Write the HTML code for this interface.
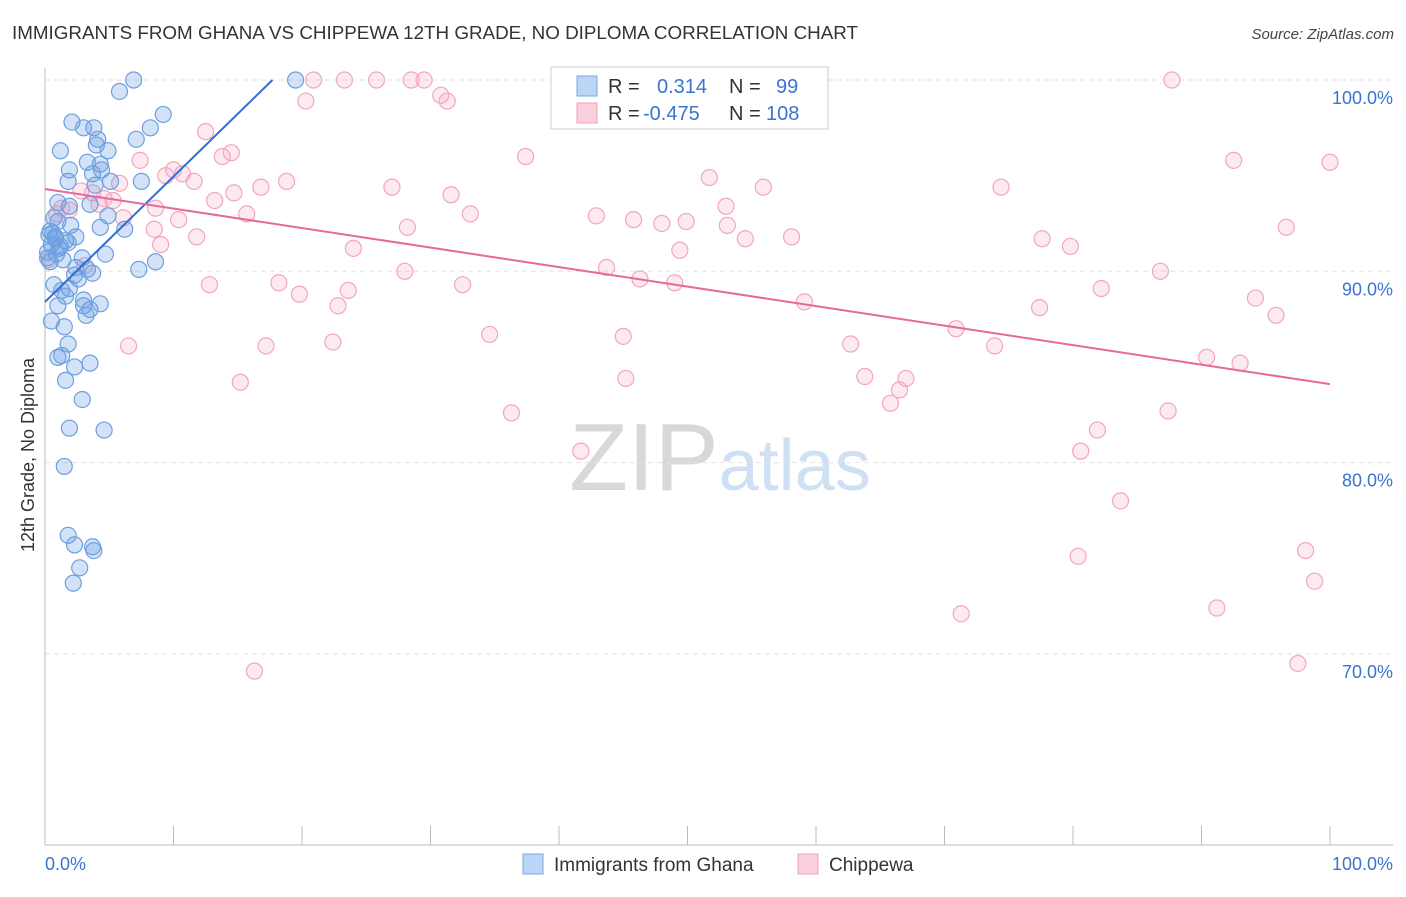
<!DOCTYPE html>
<html><head><meta charset="utf-8"><style>
body{margin:0;background:#fff;font-family:"Liberation Sans",sans-serif;}
svg text{font-family:"Liberation Sans",sans-serif;}
</style></head><body>
<svg id="chart" width="1406" height="892" xmlns="http://www.w3.org/2000/svg">
<text x="12" y="39" font-size="18" fill="#333" textLength="846" lengthAdjust="spacingAndGlyphs">IMMIGRANTS FROM GHANA VS CHIPPEWA 12TH GRADE, NO DIPLOMA CORRELATION CHART</text>
<text x="1394" y="39" font-size="15" fill="#444" text-anchor="end" font-style="italic">Source: ZipAtlas.com</text>
<text x="720" y="490" font-size="96" text-anchor="middle" fill="#ddd" font-family="Liberation Serif"><tspan fill="#d8d8d8">ZIP</tspan><tspan fill="#cfe0f4" font-family="Liberation Sans" font-size="72">atlas</tspan></text>
<text transform="translate(34,455) rotate(-90)" font-size="18" fill="#333" text-anchor="middle">12th Grade, No Diploma</text>
<g id="grid"></g><g id="axes"></g><g id="pts"></g><g id="trend"></g>
<g>
<rect x="551" y="67" width="277" height="62" fill="#fff" stroke="#ccc"/>
<rect x="577" y="76" width="20" height="20" fill="#bcd4f5" stroke="#7aa6e4"/>
<text x="608" y="93" font-size="20" fill="#333">R = </text><text x="657" y="93" font-size="20" fill="#3a74d0">0.314</text>
<text x="729" y="93" font-size="20" fill="#333">N = </text><text x="776" y="93" font-size="20" fill="#3a74d0">99</text>
<rect x="577" y="103" width="20" height="20" fill="#fbd0de" stroke="#f0a0bc"/>
<text x="608" y="120" font-size="20" fill="#333">R = </text><text x="643" y="120" font-size="20" fill="#3a74d0">-0.475</text>
<text x="729" y="120" font-size="20" fill="#333">N = </text><text x="766" y="120" font-size="20" fill="#3a74d0">108</text>
</g>
<g>
<rect x="523" y="854" width="20" height="20" fill="#bcd4f5" stroke="#7aa6e4"/>
<text x="554" y="871" font-size="19" fill="#333">Immigrants from Ghana</text>
<rect x="798" y="854" width="20" height="20" fill="#fbd0de" stroke="#f0a0bc"/>
<text x="829" y="871" font-size="19" fill="#333">Chippewa</text>
</g>
</svg>
<script>
const yTicks=[100,90,80,70];
const xTickLabels=["0.0%","100.0%"];
const ghanaX=[6.9,19.5,5.8,9.2,2.1,3.0,3.8,8.2,7.1,4.1,1.2,4.9,4.0,3.3,4.3,1.9,3.7,4.4,1.8,5.1,7.5,3.9,1.0,1.9,3.5,4.9,0.7,1.0,6.2,4.3,0.4,0.8,1.6,2.4,0.5,1.2,1.8,0.2,0.9,4.7,2.9,2.4,3.3,3.7,8.6,7.3,2.3,0.7,1.9,1.3,3.0,4.3,3.5,1.0,0.5,1.5,1.8,1.0,1.3,2.3,3.5,1.6,2.9,1.9,4.6,1.5,1.8,2.3,3.7,3.8,2.7,2.2,3.0,3.2,1.6,0.2,0.3,0.6,1.1,1.4,0.4,0.8,2.0,2.6];
const ghanaY=[100.0,100.0,99.4,98.2,97.8,97.5,97.5,97.5,96.9,96.9,96.3,96.3,96.6,95.7,95.6,95.3,95.1,95.3,94.7,94.7,94.7,94.5,93.6,93.4,93.5,92.9,92.8,92.6,92.2,92.3,92.1,91.8,91.6,91.8,91.4,91.3,91.5,91.0,90.9,90.9,90.7,90.2,90.1,89.9,90.5,90.1,89.8,89.3,89.1,89.0,88.5,88.3,88.0,88.2,87.4,87.1,86.2,85.5,85.6,85.0,85.2,84.3,83.3,81.8,81.7,79.8,76.2,75.7,75.6,75.4,74.5,73.7,88.2,87.7,88.7,90.7,91.9,92.0,91.2,90.6,90.5,91.7,92.4,89.6];
const chipX=[20.9,23.3,25.8,28.5,29.5,87.7,30.8,31.3,20.3,12.5,37.4,14.5,13.8,7.4,92.5,100,10.0,10.7,9.4,18.8,11.6,5.8,16.8,51.7,27.0,74.4,55.9,14.7,31.6,3.7,4.6,5.3,13.2,53.0,1.3,8.6,1.9,15.7,33.1,42.9,45.8,10.4,48.0,49.9,53.1,28.2,96.6,8.5,11.8,54.5,58.1,77.6,9.0,24.0,49.4,79.8,43.7,28.0,86.8,46.3,49.0,12.8,18.2,32.5,82.2,23.6,19.8,22.8,59.1,94.2,77.4,95.8,70.9,34.6,45.0,6.5,17.2,22.4,62.7,73.9,90.4,93.0,45.2,63.8,67.0,15.2,66.5,65.8,36.3,87.4,81.9,41.7,80.6,83.7,80.4,98.1,98.8,71.3,91.2,16.3,97.5,2.8,0.9,4.2,6.1,3.1,0.3];
const chipY=[100,100,100,100,100,100,99.2,98.9,98.9,97.3,96.0,96.2,96.0,95.8,95.8,95.7,95.3,95.1,95.0,94.7,94.7,94.6,94.4,94.9,94.4,94.4,94.4,94.1,94.0,94.1,93.8,93.7,93.7,93.4,93.3,93.3,93.2,93.0,93.0,92.9,92.7,92.7,92.5,92.6,92.4,92.3,92.3,92.2,91.8,91.7,91.8,91.7,91.4,91.2,91.1,91.3,90.2,90.0,90.0,89.6,89.4,89.3,89.4,89.3,89.1,89.0,88.8,88.2,88.4,88.6,88.1,87.7,87.0,86.7,86.6,86.1,86.1,86.3,86.2,86.1,85.5,85.2,84.4,84.5,84.4,84.2,83.8,83.1,82.6,82.7,81.7,80.6,80.6,78.0,75.1,75.4,73.8,72.1,72.4,69.1,69.5,94.2,93.0,93.5,92.8,90.3,90.6];
const ghanaTrend=[0,88.4,17.7,100];
const chipTrend=[0,94.3,100,84.1];
const NS="http://www.w3.org/2000/svg";
const xS=v=>45+v*12.85, yS=v=>80+(100-v)*19.13;
function mk(tag,attrs,parent){const e=document.createElementNS(NS,tag);for(const k in attrs)e.setAttribute(k,attrs[k]);parent.appendChild(e);return e;}
const grid=document.getElementById('grid'),axes=document.getElementById('axes'),pts=document.getElementById('pts'),tr=document.getElementById('trend');
yTicks.forEach(t=>{
 const l=mk('line',{x1:45,x2:1393,y1:yS(t),y2:yS(t),stroke:'#e2e2e2','stroke-dasharray':'5,4'},grid);
 
 
 const tx=mk('text',{x:1393,y:yS(t)+24,'font-size':18,fill:'#3a74d0','text-anchor':'end'},axes);
 tx.textContent=t.toFixed(1)+'%';
 
 
});
const ax=mk('line',{x1:45,x2:1393,y1:845,y2:845,stroke:'#bbb'},axes);


const ay=mk('line',{x1:45,x2:45,y1:68,y2:845,stroke:'#bbb'},axes);


for(let i=0;i<=10;i++){const t=mk('line',{x1:xS(i*10),x2:xS(i*10),y1:826,y2:845,stroke:'#bbb'},axes);
 
 }
[[0,'start',45],[100,'end',1393]].forEach((p,i)=>{const t=mk('text',{x:p[2],y:870,'font-size':18,fill:'#3a74d0','text-anchor':p[1]},axes);t.textContent=xTickLabels[i];
 
 });
chipX.forEach((x,i)=>{const c=mk('circle',{cx:xS(x),cy:yS(chipY[i]),r:8,fill:'rgba(245,160,190,0.22)',stroke:'#f2a5c0','stroke-width':1.2},pts);
 
 });
ghanaX.forEach((x,i)=>{const c=mk('circle',{cx:xS(x),cy:yS(ghanaY[i]),r:8,fill:'rgba(110,160,230,0.3)',stroke:'#6d9fe0','stroke-width':1.2},pts);
 
 });
const l1=mk('line',{x1:xS(ghanaTrend[0]),y1:yS(ghanaTrend[1]),x2:xS(ghanaTrend[2]),y2:yS(ghanaTrend[3]),stroke:'#2d6fd6','stroke-width':2},tr);


const l2=mk('line',{x1:xS(chipTrend[0]),y1:yS(chipTrend[1]),x2:xS(chipTrend[2]),y2:yS(chipTrend[3]),stroke:'#e8689a','stroke-width':2},tr);


</script>
</body></html>
